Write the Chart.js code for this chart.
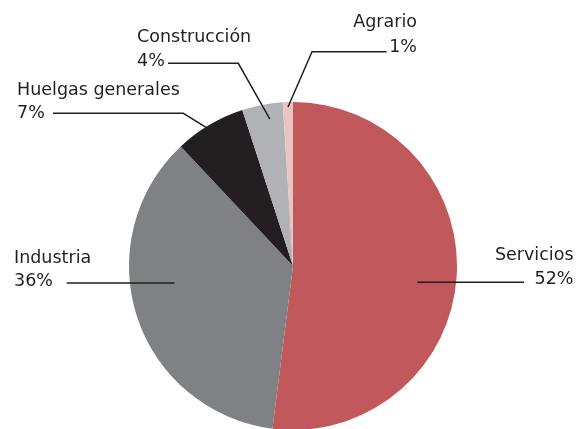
<!DOCTYPE html>
<html>
<head>
<meta charset="utf-8">
<script src="https://cdn.jsdelivr.net/npm/chart.js@4/dist/chart.umd.min.js"></script>
<style>
  html, body { margin: 0; padding: 0; background: #fff; }
  canvas { display: block; }
</style>
</head>
<body>
<canvas id="pie" width="584" height="429"></canvas>
<script>
// sectores, porcentaje de participación
const sectors = ['Servicios', 'Industria', 'Huelgas generales', 'Construcción', 'Agrario'];
const shares = [52, 36, 7, 4, 1];
const colors = ['#c1585b', '#808184', '#231f20', '#b1b2b5', '#e9c3c1'];

// label placement (text and leader line), one per slice
const callouts = [
  { index: 0, x: 573.5, align: 'right', y: 260,   gap: 23.5, lineX: 524,   lineY: 282.3, flat: true, frac: 0.76 },
  { index: 1, x: 14,    align: 'left',  y: 263.3, gap: 22.7, lineX: 66.7,  lineY: 283,   flat: true, frac: 0.76 },
  { index: 2, x: 17,    align: 'left',  y: 95,    gap: 22.7, lineX: 53,    lineY: 113.3, elbowX: 183.3, flat: false, frac: 0.975, turn: -0.8 },
  { index: 3, x: 137,   align: 'left',  y: 42.3,  gap: 23.7, lineX: 168,   lineY: 63.3,  elbowX: 238.3, flat: false, frac: 0.906, turn: 1.85 },
  { index: 4, x: 417,   align: 'right', y: 27.3,  gap: 24.4, lineX: 386.7, lineY: 51.7,  elbowX: 312,   flat: false, frac: 0.97, turn: 0 }
];

const calloutPlugin = {
  id: 'callouts',
  afterDraw(chart) {
    const ctx = chart.ctx;
    const meta = chart.getDatasetMeta(0);
    ctx.save();
    ctx.font = '17.5px "DejaVu Sans"';
    ctx.fillStyle = '#231f20';
    ctx.strokeStyle = '#231f20';
    ctx.lineWidth = 1.5;
    callouts.forEach(item => {
      const arc = meta.data[item.index];
      const mid = (arc.startAngle + arc.endAngle) / 2 + (item.turn || 0) * Math.PI / 180;
      const r = arc.outerRadius * item.frac;
      const ex = arc.x + Math.cos(mid) * r;
      const ey = item.flat ? item.lineY : arc.y + Math.sin(mid) * r;
      ctx.beginPath();
      ctx.moveTo(item.lineX, item.lineY);
      if (item.elbowX !== undefined) ctx.lineTo(item.elbowX, item.lineY);
      ctx.lineTo(ex, ey);
      ctx.stroke();

      ctx.textAlign = item.align;
      ctx.textBaseline = 'alphabetic';
      ctx.fillText(sectors[item.index], item.x, item.y);
      ctx.fillText(shares[item.index] + '%', item.x, item.y + item.gap);
    });
    ctx.restore();
  }
};

new Chart(document.getElementById('pie').getContext('2d'), {
  type: 'pie',
  data: {
    labels: sectors,
    datasets: [{
      data: shares,
      backgroundColor: colors,
      borderWidth: 0
    }]
  },
  options: {
    responsive: false,
    animation: false,
    radius: 164,
    layout: { padding: { top: 103, bottom: 0, left: 2, right: 0 } },
    plugins: {
      legend: { display: false },
      tooltip: { enabled: false }
    }
  },
  plugins: [calloutPlugin]
});
</script>
</body>
</html>
